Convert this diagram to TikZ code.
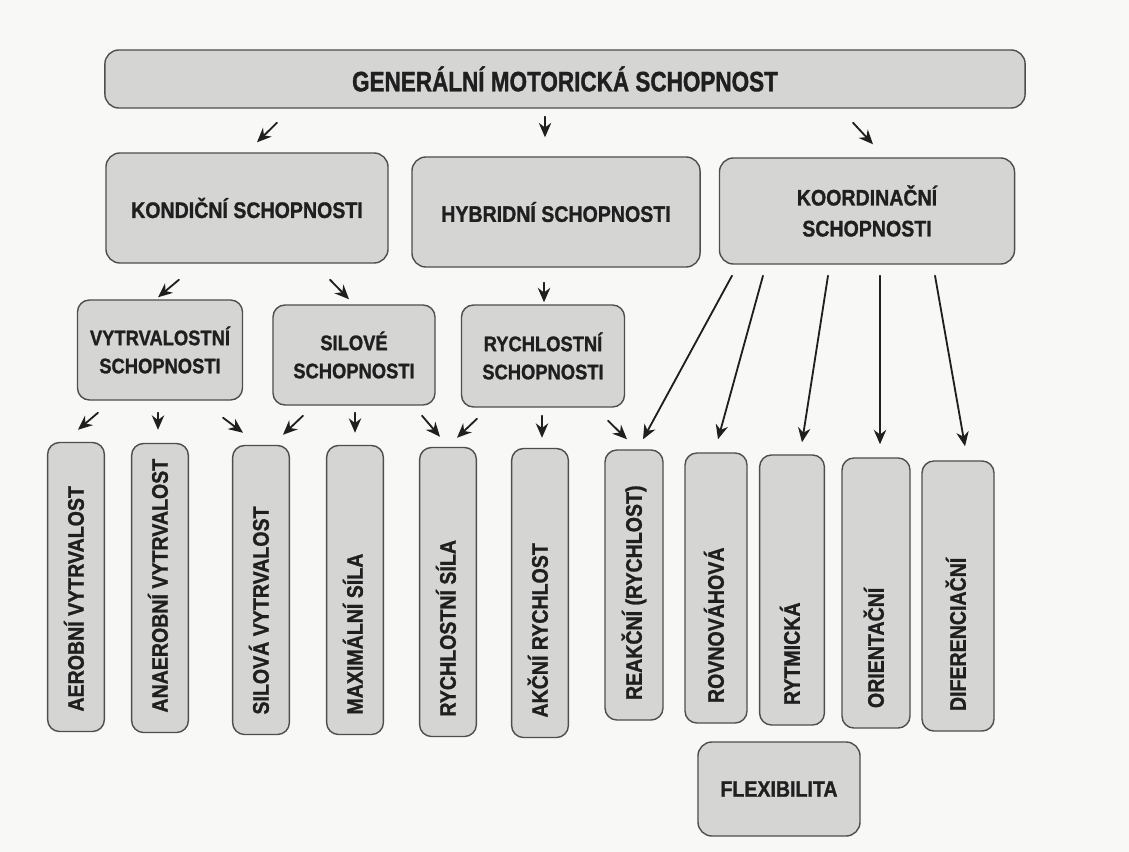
\documentclass[tikz,border=0pt]{standalone}
\usepackage{fontspec}
\setmainfont{Liberation Sans}[FakeStretch=0.87,BoldFeatures={FakeBold=1.2}]
\newfontfamily\headfont{Liberation Sans}[FakeStretch=0.8,BoldFeatures={FakeBold=1.2}]
\usepackage{tikz}
\usetikzlibrary{arrows.meta,calc}
\definecolor{paper}{HTML}{F8F8F7}
\definecolor{boxgray}{HTML}{D5D5D3}
\definecolor{boxline}{HTML}{4E4E4E}
\definecolor{ink}{HTML}{1F1F1F}
\newcommand{\vlabel}[2]{\rotatebox{90}{\makebox[#1][l]{\smash{#2}\vphantom{X}}}}
\tikzset{
    every picture/.style={line cap=round,line join=round},
    headbox/.style={draw=boxline,fill=boxgray,line width=1pt,rounded corners=3.5mm,
      minimum width=23cm,minimum height=1.45cm,text=ink,
      font=\headfont\bfseries\fontsize{20}{24}\selectfont},
    groupbox/.style={draw=boxline,fill=boxgray,line width=1pt,rounded corners=3.5mm,
      minimum height=2.75cm,text=ink,align=center,
      font=\bfseries\fontsize{16}{22}\selectfont},
    subbox/.style={groupbox,rounded corners=3mm,minimum height=2.5cm,
      font=\bfseries\fontsize{15}{20}\selectfont},
    leafbox/.style={draw=boxline,fill=boxgray,line width=1pt,rounded corners=3mm,
      minimum width=1.42cm,inner xsep=0pt,inner ysep=5mm,text=ink,
      font=\bfseries\fontsize{16}{19}\selectfont},
    flowarrow/.style={-{Stealth[length=3.6mm,width=3.1mm]},draw=ink,line width=1.3pt}
}

\begin{document}
\begin{tikzpicture}[x=0.025cm,y=-0.025cm]
    \fill[paper] (0,0) rectangle (1129,852);
    \useasboundingbox (0,0) rectangle (1129,852);
    % top
    \node[headbox] (gms) at (565,79) {GENERÁLNÍ MOTORICKÁ SCHOPNOST};
    % second row
    \node[groupbox,minimum width=7.05cm] (kond) at (247,208) {KONDIČNÍ SCHOPNOSTI};
    \node[groupbox,minimum width=7.2cm] (hybr) at (556,212) {HYBRIDNÍ SCHOPNOSTI};
    \node[groupbox,minimum width=7.375cm,minimum height=2.65cm] (koord) at (867,211) {KOORDINAČNÍ\\SCHOPNOSTI};
    % third row
    \node[subbox,minimum width=4.125cm] (vytr) at (160,350) {VYTRVALOSTNÍ\\SCHOPNOSTI};
    \node[subbox,minimum width=4.05cm] (sil) at (354,355) {SILOVÉ\\SCHOPNOSTI};
    \node[subbox,minimum width=4.075cm,minimum height=2.55cm] (rychl) at (543,356) {RYCHLOSTNÍ\\SCHOPNOSTI};
    % leaves
    \node[leafbox] (aer) at (76,587) {\vlabel{6.225cm}{AEROBNÍ VYTRVALOST}};
    \node[leafbox] (anaer) at (160,588) {\vlabel{6.225cm}{ANAEROBNÍ VYTRVALOST}};
    \node[leafbox] (silv) at (261,590) {\vlabel{6.225cm}{SILOVÁ VYTRVALOST}};
    \node[leafbox] (maxs) at (355,590) {\vlabel{6.225cm}{MAXIMÁLNÍ SÍLA}};
    \node[leafbox] (rsil) at (448,592) {\vlabel{6.225cm}{RYCHLOSTNÍ SÍLA}};
    \node[leafbox] (akc) at (540,593) {\vlabel{6.225cm}{AKČNÍ RYCHLOST}};
    \node[leafbox,minimum width=1.45cm] (reak) at (634,585) {\vlabel{5.75cm}{REAKČNÍ (RYCHLOST)}};
    \node[leafbox,minimum width=1.55cm] (rovn) at (716,588) {\vlabel{5.75cm}{ROVNOVÁHOVÁ}};
    \node[leafbox,minimum width=1.62cm] (rytm) at (792,590) {\vlabel{5.75cm}{RYTMICKÁ}};
    \node[leafbox,minimum width=1.7cm] (orie) at (876,593) {\vlabel{5.75cm}{ORIENTAČNÍ}};
    \node[leafbox,minimum width=1.8cm] (dife) at (958,596) {\vlabel{5.75cm}{DIFERENCIAČNÍ}};
    \node[groupbox,minimum width=4.05cm,minimum height=2.35cm] (flex) at (779,789) {FLEXIBILITA};
    % arrows
    \draw[flowarrow] ($(gms.south)+(-288,14)$) -- ($(kond.north)+(10,-10)$);
    \draw[flowarrow] ($(gms.south)+(-20,8)$) -- ($(hybr.north)+(-11,-19)$);
    \draw[flowarrow] ($(gms.south)+(288,14)$) -- ($(koord.north)+(6,-13)$);
    \draw[flowarrow] ($(kond.south)+(-68,16)$) -- ($(vytr.north)+(-2,-2)$);
    \draw[flowarrow] ($(kond.south)+(83,16)$) -- ($(sil.north)+(-5,-5)$);
    \draw[flowarrow] ($(hybr.south)+(-12,15)$) -- ($(rychl.north)+(1,-2)$);
    \draw[flowarrow] ($(vytr.south)+(-62,12)$) -- ($(aer.north)+(2,-12)$);
    \draw[flowarrow] ($(vytr.south)+(-2,12)$) -- ($(anaer.north)+(-2,-13)$);
    \draw[flowarrow] ($(vytr.south)+(63,17)$) -- ($(silv.north)+(-18,-12)$);
    \draw[flowarrow] ($(sil.south)+(-51,10)$) -- ($(silv.north)+(22,-10)$);
    \draw[flowarrow] ($(sil.south)+(1,7)$) -- ($(maxs.north)+(0,-12)$);
    \draw[flowarrow] ($(sil.south)+(68,10)$) -- ($(rsil.north)+(-8,-10)$);
    \draw[flowarrow] ($(rychl.south)+(-66,11)$) -- ($(rsil.north)+(9,-9)$);
    \draw[flowarrow] ($(rychl.south)+(-1,8)$) -- ($(akc.north)+(2,-10)$);
    \draw[flowarrow] ($(rychl.south)+(65,13)$) -- ($(reak.north)+(-7,-10)$);
    \draw[flowarrow] ($(koord.south)+(-135,11)$) -- ($(reak.north)+(9,-10)$);
    \draw[flowarrow] ($(koord.south)+(-104,11)$) -- ($(rovn.north)+(2,-13)$);
    \draw[flowarrow] ($(koord.south)+(-39,11)$) -- ($(rytm.north)+(10,-12)$);
    \draw[flowarrow] ($(koord.south)+(13,11)$) -- ($(orie.north)+(4,-13)$);
    \draw[flowarrow] ($(koord.south)+(68,11)$) -- ($(dife.north)+(7,-14)$);
\end{tikzpicture}
\end{document}
